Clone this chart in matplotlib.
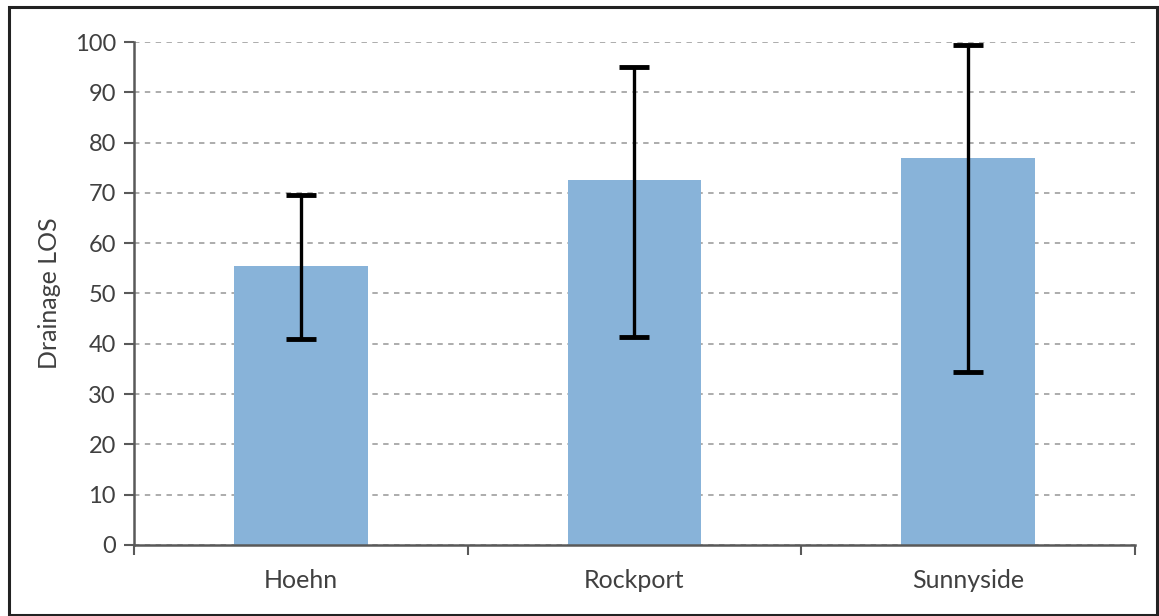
import numpy as np
import matplotlib
matplotlib.use('Agg')
import matplotlib.pyplot as plt
from matplotlib.patches import Rectangle

plt.rcParams['font.family'] = ['Lato', 'DejaVu Sans']

# data
sites = ['Hoehn', 'Rockport', 'Sunnyside']
mean_los = [55.5, 72.5, 77.0]
err_top = [69.6, 95.0, 99.4]
err_bottom = [41.0, 41.3, 34.3]
yticks = list(range(0, 101, 10))

mean = np.array(mean_los)
yerr = [mean - np.array(err_bottom), np.array(err_top) - mean]
x = np.arange(len(sites))

fig = plt.figure(figsize=(11.59, 6.16), dpi=100)
ax = fig.add_axes([0.1156, 0.1153, 0.8637, 0.8165])

ax.bar(x, mean, width=0.4, color='#88b3d9', zorder=2)
ax.errorbar(x, mean, yerr=yerr, fmt='none', ecolor='black', elinewidth=2.4,
            capsize=11, capthick=3.5, zorder=3)

ax.set_xlim(-0.5, 2.5)
ax.set_ylim(0, 100)
ax.set_yticks(yticks)
ax.set_xticks(x)
ax.set_xticklabels(sites)
ax.set_xticks(np.arange(-0.5, 3, 1), minor=True)
ax.tick_params(axis='x', which='major', length=0, pad=17, labelsize=18, colors='#404040')
ax.tick_params(axis='x', which='minor', length=7, width=1.5, color='#595959')
ax.tick_params(axis='y', length=7, width=1.5, color='#595959', labelsize=17, labelcolor='#404040', pad=6)
ax.set_ylabel('Drainage LOS', fontsize=18, color='#404040', labelpad=10)

ax.yaxis.grid(True, linestyle=(0, (3, 3)), color='#a6a6a6', linewidth=1.3, zorder=0)
ax.set_axisbelow(True)
for s in ['top', 'right']:
    ax.spines[s].set_visible(False)
for s in ['left', 'bottom']:
    ax.spines[s].set_color('#595959')
    ax.spines[s].set_linewidth(1.8)

# outer frame
fig.patches.append(Rectangle((9 / 1159, 1 / 616), 1148 / 1159, 608 / 616,
                             transform=fig.transFigure, fill=False,
                             edgecolor='#222222', linewidth=2.2))

fig.savefig('out.png', dpi=100)
